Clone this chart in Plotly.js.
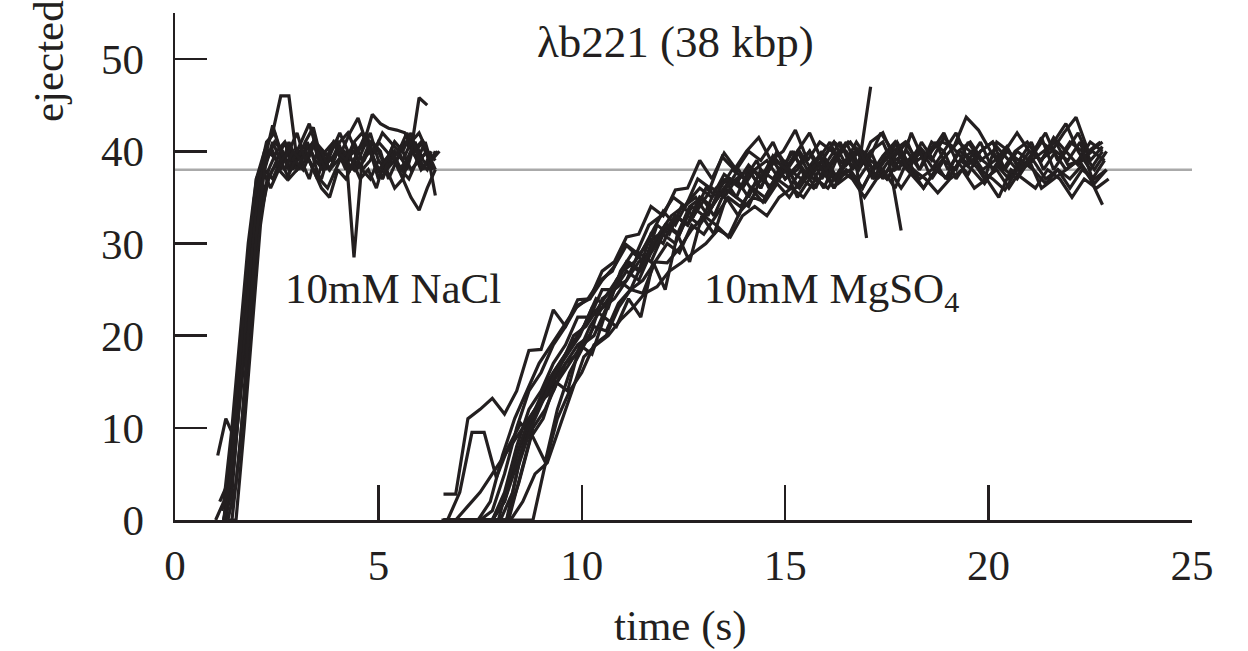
<!DOCTYPE html>
<html>
<head>
<meta charset="utf-8">
<script src="https://cdn.plot.ly/plotly-3.0.1.min.js"></script>
<style>
  html, body { margin: 0; padding: 0; background: #ffffff; }
  #chart { width: 1248px; height: 651px; }
</style>
</head>
<body>
<div id="chart"></div>
<script>
// ---------- DATA ----------
const xTicks = [0, 5, 10, 15, 20, 25];
const yTicks = [0, 10, 20, 30, 40, 50];
const genomeLength = 38;            // kbp, grey reference line

// sampling step of the recordings (s)
const naclStep = 0.2;
const mgStep = 0.3;

// 10mM NaCl runs: start times (s) and ejected length (kbp)
const naclStart = [1.1, 1.05, 1.2, 1.2, 1.0, 1.25, 1.2, 1.2, 1.15, 1.3, 1.3, 1.4];
const nacl1  = [2, 4, 12, 21, 30, 38, 40, 39, 41, 38, 40, 39, 37, 40, 41, 39, 38, 40, 42, 39, 37, 39, 40, 38, 41, 39, 38];
const nacl2  = [7, 11, 9, 19, 29, 37, 41, 42, 39, 40, 38, 41, 39, 38, 40, 42, 40, 38, 39, 41, 40, 37, 39, 41, 40, 38, 39];
const nacl3  = [0, 8, 18, 28, 37, 40, 42, 46, 46, 39, 40, 41, 38, 39, 40, 38, 41, 39, 40, 37, 39, 41, 40, 38, 39, 40, 39];
const nacl4  = [0, 3, 14, 25, 34, 38, 37, 39, 40, 38, 39, 41, 40, 38, 39, 40, 28.5, 39, 41, 40, 38, 39, 37, 40, 39, 38, 40];
const nacl5  = [0, 2, 10, 20, 30, 37, 39, 40, 38, 41, 39, 40, 38, 37, 40, 41, 39, 40, 38, 39, 41, 40, 39, 38, 40, 45.8, 45];
const nacl6  = [0, 6, 16, 26, 35, 39, 41, 40, 38, 40, 39, 41, 40, 39, 41, 42, 40, 41, 44, 43, 42.5, 42.3, 42, 40, 41, 39, 40];
const nacl7  = [0, 5, 13, 22, 31, 36, 38, 39, 37, 38, 40, 38, 36, 35, 38, 37, 39, 38, 37, 39, 38, 36, 37, 35, 33.6, 36, 38];
const nacl8  = [0, 6, 15, 25, 34, 39, 42.8, 40, 38, 39, 41, 42.6, 39, 38, 40, 39, 38, 40, 42, 39, 38, 40, 39, 41, 42, 40, 35.2];
const nacl9  = [1, 4, 15, 26, 35, 38, 36, 38, 37, 39, 38, 40, 37, 36, 38, 40, 39, 37, 38, 36, 39, 40, 38, 37, 39, 41, 38];
const nacl10 = [0, 0, 10, 21, 32, 38, 40, 41, 39, 41, 43, 40, 39, 41, 40, 42, 43.6, 41, 40, 42, 41, 40, 42, 40, 41, 39, 40];
const nacl11 = [0, 4, 13, 24, 33, 37, 39, 38, 40, 39, 37, 40, 38, 41, 39, 38, 40, 41, 39, 37, 40, 38, 39, 41, 38, 40];
const nacl12 = [0, 8, 20, 31, 38, 41, 39, 40, 42, 39, 41, 40, 38, 40, 39, 41, 42, 40, 38, 39, 41, 40, 42, 39, 40, 38];
const naclRuns = [nacl1, nacl2, nacl3, nacl4, nacl5, nacl6, nacl7, nacl8, nacl9, nacl10, nacl11, nacl12];

// 10mM MgSO4 runs: start times (s) and ejected length (kbp)
const mgStart = [6.6, 6.7, 6.6, 6.65, 6.55, 6.7, 6.6, 6.8, 6.75, 6.6, 6.7, 6.6, 6.6, 6.75, 6.65];
const mg1  = [2.8, 2.8, 11, 12, 13.2, 11.5, 14, 18.4, 18.5, 22.8, 21, 23.3, 24, 26, 27.5, 29.8, 28.5, 31, 33.5, 32, 34.5, 36, 35, 37.5, 36.5, 38.5, 37, 39.5, 38, 40, 37.5, 39, 41, 38.5, 40, 37.5, 39.5, 41, 38.5, 40.5, 39, 41.5, 40, 38.5, 40, 41, 39.5, 38, 40, 39, 41.5, 40, 38.5, 40, 41];
const mg2  = [0, 3, 9.5, 9.5, 4.6, 8, 10.5, 9, 6.3, 12, 16, 18.5, 21, 20.5, 23.5, 25, 24.6, 28, 27.9, 29.5, 31.5, 33, 32, 30.7, 33.5, 35, 34.5, 36.5, 35, 37, 36, 38, 36.5, 37.5, 36, 38.5, 37, 39, 37.5, 36, 38, 37, 39, 38, 36.5, 38.5, 37, 39, 38, 36.5, 38, 37, 38.5, 36.5, 38];
const mg3  = [0, 0, 0, 0, 0, 3, 8, 12, 14, 17, 19, 22, 22, 25, 25, 28, 27, 31, 30, 33, 32, 35, 34, 37, 35, 38, 36, 39, 37, 38.5, 40, 37, 39, 41, 38, 40, 37, 39.5, 41, 38, 40, 42, 39, 37.5, 40, 41, 38, 40, 39, 41.5, 38, 40, 42, 39, 40.5];
const mg4  = [0, 0, 0, 0, 0, 0, 4, 9, 11, 15, 14, 19, 18, 22, 21, 24, 22, 28, 25, 31, 28, 33, 31, 35, 33, 36, 34.5, 37, 38, 36, 38, 39, 37, 39, 40, 38, 39, 41, 38.5, 40, 38, 39.5, 41, 40, 38, 39, 40.5, 38, 39, 40, 41, 38.5, 39, 40, 39];
const mg5  = [0, 0, 0, 0, 2, 7, 11, 14, 17, 19, 21, 23, 24, 26, 27, 30, 29, 32, 33, 35, 34, 37, 36, 39.4, 38, 40, 41.5, 39, 40, 42.3, 39, 41, 40, 38.5, 41, 39, 42, 40, 41, 39, 40, 41, 40.5, 43.7, 42.3, 40, 38, 40, 41, 39, 40, 42, 43.7, 40, 41];
const mg6  = [0, 0, 0, 0, 0, 0, 0, 0, 6, 11, 14, 16, 19, 20, 23, 25, 26, 28, 30, 29, 32, 31, 33, 35, 34, 36, 35, 37, 36, 38, 37, 39, 37, 38, 36, 38.5, 37, 39, 38, 36, 38, 37, 39, 40, 37, 38, 36, 38, 39, 37, 38, 36, 38, 37, 38];
const mg7  = [0, 0, 0, 0, 0, 2, 7, 11, 13, 16, 18, 20, 22, 23, 25, 26, 29, 28, 31, 33, 32, 35, 34, 36, 37, 35, 38, 37, 39, 36, 38, 40, 37, 39, 38, 47];
const mg8  = [0, 0, 0, 0, 0, 3, 9, 12, 14, 17, 20, 21, 23, 25, 27, 28, 30, 31, 33, 34, 35, 33, 36, 38, 37, 39, 36, 38, 40, 37, 39, 41, 38, 40, 30.6];
const mg9  = [0, 0, 0, 0, 0, 5, 9, 12, 15, 17, 19, 21, 24, 23, 27, 29, 28, 32, 31, 34, 33, 36, 35, 37, 36, 38, 39, 37, 40, 38, 36, 39, 41, 38, 40, 37, 39, 31.4];
const mg10 = [0, 0, 1.5, 3, 5, 7, 9, 11, 13, 15, 17, 18, 21, 23, 24, 26, 28, 29, 31, 30, 33, 32, 34, 36, 35, 34, 37, 36, 38, 35, 37, 39, 36, 38, 37, 39, 38, 36, 39, 37, 38, 40, 37, 39, 38, 37, 35.8, 38, 39, 36, 37, 38, 39, 37, 34.2];
const mg11 = [0, 0, 0, 0, 0, 0, 5, 10, 12, 15, 17, 19, 20, 23, 26, 25, 28, 30, 32, 31, 34, 33, 36, 37, 36, 38, 37, 40, 38, 37, 39, 38, 40, 41, 39, 37, 40, 38, 42, 39, 41, 38, 40, 39, 37, 41, 40, 38, 40, 42, 39, 41, 40, 38, 40];
const mg12 = [0, 0, 0, 0, 0, 2, 6, 10, 13, 14, 17, 19, 20, 24, 25, 27, 26, 29, 31, 33, 32, 34, 36, 35, 37, 38, 36, 39, 37, 38, 40, 38, 36, 39, 38, 40, 41, 38, 39, 40, 37, 39, 38, 41, 39, 40, 38, 37, 39, 41, 40, 38, 39, 41, 40];
const mg13 = [0, 0, 0, 0, 1, 5, 10, 14, 16, 19, 21, 23.9, 24, 27, 28, 30.7, 31, 34, 33, 35.8, 36, 39, 37, 39.8, 38, 40, 39, 41, 38, 40, 42, 39, 41, 40, 38, 41, 42, 39, 40, 38, 41, 40, 42, 39, 41, 38, 40, 42, 40, 39, 41, 43, 40, 38, 40];
const mg14 = [0, 0, 0, 0, 0, 0, 2, 5, 6.2, 10, 14, 17.7, 19, 20, 21.7, 23, 24.6, 25.3, 27, 27.9, 29, 30, 31.5, 30.7, 33, 34, 33, 35, 36, 35, 37, 36, 38, 37, 35, 37, 38, 36, 38, 37, 35.5, 37, 38, 36, 37, 35, 38, 37, 36, 38, 37, 35, 37, 36, 37];
const mg15 = [0, 0, 0, 0, 0, 0, 6, 10, 13, 16, 18, 20, 23, 22, 26, 28, 27, 30, 32, 31, 34, 35, 33, 36, 38, 36, 37, 39, 38, 40, 38, 36, 39, 41, 40, 37, 39, 40, 38, 41, 39, 37, 40, 41, 39, 38, 40, 39, 41, 38, 40, 39, 41, 37, 39];
const mgRuns = [mg1, mg2, mg3, mg4, mg5, mg6, mg7, mg8, mg9, mg10, mg11, mg12, mg13, mg14, mg15];

// ---------- STYLE ----------
const ink = '#231f20';
const serif = 'Liberation Serif, Times New Roman, Times, serif';

function runTrace(values, start, step) {
  return {
    type: 'scatter',
    mode: 'lines',
    x: values.map((_, i) => +(start + i * step).toFixed(3)),
    y: values,
    line: { color: ink, width: 3.2 },
    hoverinfo: 'skip',
    showlegend: false
  };
}

const traces = [];
naclRuns.forEach((r, k) => traces.push(runTrace(r, naclStart[k], naclStep)));
mgRuns.forEach((r, k) => traces.push(runTrace(r, mgStart[k], mgStep)));

const axisCommon = {
  showgrid: false,
  zeroline: false,
  showline: true,
  linecolor: ink,
  linewidth: 2.5,
  ticks: 'inside',
  tickcolor: ink,
  tickwidth: 2.5,
  tickfont: { family: serif, size: 43, color: ink },
  fixedrange: true
};

const layout = {
  width: 1248,
  height: 651,
  margin: { l: 175, r: 56, t: 13, b: 131 },
  paper_bgcolor: '#ffffff',
  plot_bgcolor: '#ffffff',
  showlegend: false,
  xaxis: Object.assign({}, axisCommon, {
    range: [0, 25],
    tickvals: xTicks,
    ticktext: xTicks.map(String),
    ticklen: 35,
    ticklabelstandoff: 6
  }),
  yaxis: Object.assign({}, axisCommon, {
    range: [0, 55],
    tickvals: yTicks,
    ticktext: yTicks.map(String),
    ticklen: 32,
    ticklabelstandoff: 20
  }),
  shapes: [{
    type: 'line', xref: 'x', yref: 'y', layer: 'below',
    x0: xTicks[0], x1: xTicks[xTicks.length - 1], y0: genomeLength, y1: genomeLength,
    line: { color: '#aaaaaa', width: 2.5 }
  }],
  annotations: [
    { text: 'λb221 (38 kbp)', xref: 'paper', yref: 'paper', x: 0.492, y: 0.943,
      xanchor: 'center', yanchor: 'middle', showarrow: false,
      font: { family: serif, size: 45, color: ink } },
    { text: '10mM NaCl', xref: 'x', yref: 'y', x: 5.36, y: 25.1,
      xanchor: 'center', yanchor: 'middle', showarrow: false,
      font: { family: serif, size: 43, color: ink } },
    { text: '10mM MgSO<sub>4</sub>', xref: 'x', yref: 'y', x: 16.15, y: 24.7,
      xanchor: 'center', yanchor: 'middle', showarrow: false,
      font: { family: serif, size: 43, color: ink } },
    { text: 'time (s)', xref: 'paper', yref: 'paper', x: 0.497, y: -0.21,
      xanchor: 'center', yanchor: 'middle', showarrow: false,
      font: { family: serif, size: 43, color: ink } },
    { text: 'ejected', xref: 'paper', yref: 'paper', x: -0.125, y: 0.905,
      xanchor: 'center', yanchor: 'middle', textangle: -90, showarrow: false,
      font: { family: serif, size: 43, color: ink } }
  ]
};

Plotly.newPlot('chart', traces, layout, { staticPlot: true, displayModeBar: false });
</script>
</body>
</html>
